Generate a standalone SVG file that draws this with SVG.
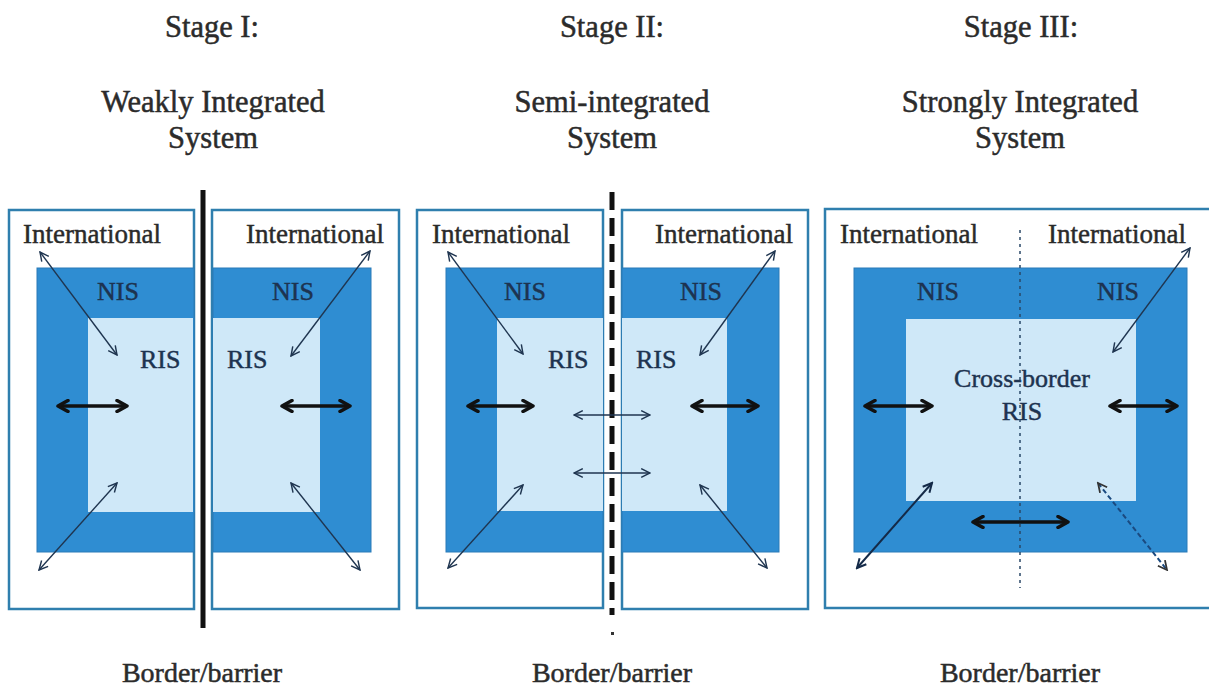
<svg xmlns="http://www.w3.org/2000/svg" width="1209" height="689" viewBox="0 0 1209 689">
<defs>
<style>
.title{font-family:"Liberation Serif","Times New Roman",serif;font-size:30.5px;fill:#2b2b2b;stroke:#2b2b2b;stroke-width:0.5;text-anchor:middle}
.foot{font-family:"Liberation Serif","Times New Roman",serif;font-size:28px;fill:#2b2b2b;stroke:#2b2b2b;stroke-width:0.5;text-anchor:middle}
.intl{font-family:"Liberation Serif","Times New Roman",serif;font-size:27px;fill:#2a2a2a;stroke:#2a2a2a;stroke-width:0.45}
.lbl{font-family:"Liberation Serif","Times New Roman",serif;font-size:26px;fill:#1d3350;stroke:#1d3350;stroke-width:0.45}
.outer{fill:#fff;stroke:#2f7fae;stroke-width:2.5}
.nis{fill:#2f8dd2;stroke:#2a7bb8;stroke-width:1}
.ris{fill:#cfe8f8}
.thin{stroke:#1f3550;stroke-width:1.4;fill:none;marker-start:url(#ah);marker-end:url(#ah)}
.thick{stroke:#111;stroke-width:3.5;fill:none;marker-start:url(#ahb);marker-end:url(#ahb)}
.med{stroke:#142a48;stroke-width:2;fill:none;marker-start:url(#ahm);marker-end:url(#ahm)}
</style>
<marker id="ah" viewBox="0 0 10 10" refX="9" refY="5" markerWidth="11" markerHeight="11" markerUnits="userSpaceOnUse" orient="auto-start-reverse">
<path d="M1,1 L9,5 L1,9" fill="none" stroke="#1f3550" stroke-width="1.3"/>
</marker>
<marker id="ahm" viewBox="0 0 12 12" refX="10.5" refY="6" markerWidth="12" markerHeight="12" markerUnits="userSpaceOnUse" orient="auto-start-reverse">
<path d="M1.5,1.5 L10.5,6 L1.5,10.5" fill="none" stroke="#142a48" stroke-width="2"/>
</marker>
<marker id="ahd" viewBox="0 0 12 12" refX="10.5" refY="6" markerWidth="12" markerHeight="12" markerUnits="userSpaceOnUse" orient="auto-start-reverse">
<path d="M1.5,1.5 L10.5,6 L1.5,10.5" fill="none" stroke="#333" stroke-width="1.8"/>
</marker>
<marker id="ahb" viewBox="0 0 14 14" refX="12" refY="7" markerWidth="14" markerHeight="14" markerUnits="userSpaceOnUse" orient="auto-start-reverse">
<path d="M2,1.5 L12,7 L2,12.5" fill="none" stroke="#111" stroke-width="3.5" stroke-linecap="round" stroke-linejoin="round"/>
</marker>
</defs>
<rect width="1209" height="689" fill="#fff"/>

<g id="titles">
<text class="title" x="212" y="37">Stage I:</text>
<text class="title" x="213" y="112">Weakly Integrated</text>
<text class="title" x="213" y="148">System</text>
<text class="title" x="612" y="37">Stage II:</text>
<text class="title" x="612" y="112">Semi-integrated</text>
<text class="title" x="612" y="148">System</text>
<text class="title" x="1021" y="37">Stage III:</text>
<text class="title" x="1020" y="112">Strongly Integrated</text>
<text class="title" x="1020" y="148">System</text>
<text class="foot" x="202" y="682">Border/barrier</text>
<text class="foot" x="612" y="682">Border/barrier</text>
<text class="foot" x="1020" y="682">Border/barrier</text>
</g>

<g id="stage1-left">
<rect class="outer" x="9" y="210" width="185" height="399"/>
<rect class="nis" x="37" y="268" width="157" height="284"/>
<rect class="ris" x="88" y="318" width="105" height="194"/>
<text class="intl" x="23" y="243">International</text>
<text class="lbl" x="97" y="300">NIS</text>
<text class="lbl" x="140" y="368">RIS</text>
</g>
<g id="stage1-right">
<rect class="outer" x="212" y="210" width="187" height="399"/>
<rect class="nis" x="213" y="268" width="158" height="284"/>
<rect class="ris" x="213" y="318" width="107" height="194"/>
<text class="intl" x="246" y="243">International</text>
<text class="lbl" x="272" y="300">NIS</text>
<text class="lbl" x="227" y="368">RIS</text>
</g>

<g id="stage2-left">
<rect class="outer" x="417" y="210" width="186" height="398"/>
<rect class="nis" x="446" y="268" width="157" height="284"/>
<rect class="ris" x="497" y="318" width="106" height="193"/>
<text class="intl" x="432" y="243">International</text>
<text class="lbl" x="504" y="300">NIS</text>
<text class="lbl" x="548" y="368">RIS</text>
</g>
<g id="stage2-right">
<rect class="outer" x="622" y="210" width="186" height="399"/>
<rect class="nis" x="622" y="268" width="157" height="284"/>
<rect class="ris" x="622" y="318" width="105" height="193"/>
<text class="intl" x="655" y="243">International</text>
<text class="lbl" x="680" y="300">NIS</text>
<text class="lbl" x="636" y="368">RIS</text>
</g>

<g id="stage3">
<rect class="outer" x="825" y="209" width="390" height="399"/>
<rect class="nis" x="854" y="268" width="333" height="284"/>
<rect class="ris" x="906" y="319" width="230" height="182"/>
<text class="intl" x="840" y="243">International</text>
<text class="intl" x="1048" y="243">International</text>
<text class="lbl" x="917" y="300">NIS</text>
<text class="lbl" x="1097" y="300">NIS</text>
<text class="lbl" x="1022" y="387" text-anchor="middle">Cross-border</text>
<text class="lbl" x="1022" y="420" text-anchor="middle">RIS</text>
</g>

<g id="barriers">
<line x1="203" y1="190" x2="203" y2="628" stroke="#111" stroke-width="5"/>
<line x1="612" y1="192" x2="612" y2="615" stroke="#111" stroke-width="5" stroke-dasharray="18 8"/>
<rect x="611" y="632" width="3" height="3" fill="#333"/>
<line x1="1020" y1="230" x2="1020" y2="588" stroke="#2a4868" stroke-width="1.5" stroke-dasharray="3 4"/>
</g>

<g id="connectors">
<line class="thin" x1="40" y1="252" x2="117" y2="355"/>
<line class="thick" x1="58" y1="406" x2="127" y2="406"/>
<line class="thin" x1="117" y1="483" x2="39" y2="570"/>
<line class="thin" x1="370" y1="251" x2="291" y2="356"/>
<line class="thick" x1="282" y1="406" x2="350" y2="406"/>
<line class="thin" x1="291" y1="483" x2="360" y2="570"/>

<line class="thin" x1="448" y1="252" x2="523" y2="354"/>
<line class="thick" x1="468" y1="406" x2="533" y2="406"/>
<line class="thin" x1="523" y1="485" x2="448" y2="568"/>
<line class="thin" x1="574" y1="415" x2="650" y2="415"/>
<line class="thin" x1="574" y1="473" x2="650" y2="473"/>
<line class="thin" x1="775" y1="251" x2="700" y2="355"/>
<line class="thick" x1="692" y1="406" x2="758" y2="406"/>
<line class="thin" x1="700" y1="485" x2="767" y2="568"/>

<line class="thin" x1="1190" y1="248" x2="1113" y2="352"/>
<line class="thick" x1="865" y1="406" x2="932" y2="406"/>
<line class="thick" x1="1110" y1="406" x2="1177" y2="406"/>
<line class="thick" x1="973" y1="522" x2="1068" y2="522"/>
<line class="med" x1="932" y1="483" x2="857" y2="568"/>
<line x1="1098" y1="483" x2="1167" y2="570" stroke="#1a4a80" stroke-width="2" stroke-dasharray="5 3" marker-start="url(#ahd)" marker-end="url(#ahd)"/>
</g>
</svg>
